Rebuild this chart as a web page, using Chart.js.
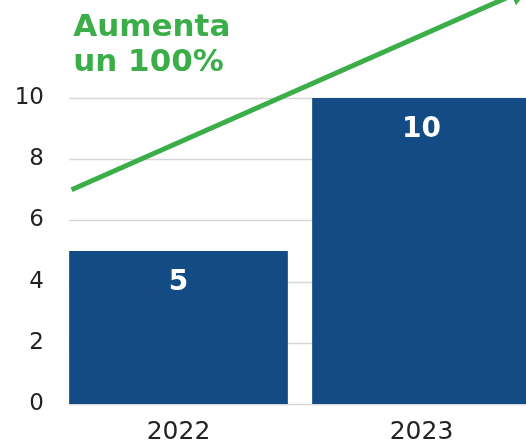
<!DOCTYPE html>
<html>
<head>
<meta charset="utf-8">
<script src="https://cdn.jsdelivr.net/npm/chart.js@4/dist/chart.umd.min.js"></script>
<style>
  html, body { margin: 0; padding: 0; background: #fff; overflow: hidden; }
  #growthChart { display: block; }
</style>
</head>
<body>
<canvas id="growthChart" width="543" height="444"></canvas>
<script>
// chart data
const years = ["2022", "2023"];
const counts = [5, 10];
const yTicks = [0, 2, 4, 6, 8, 10];
// trend arrow, x in category index units, y in axis units
const trendX = [-0.44, 1.40];
const trendY = [7.0, 13.45];
const headline = ["Aumenta", "un 100%"];

const BLUE = "#134b84";
const GREEN = "#3cae49";

// grid lines start at the left edge of the first bar, like the original
const gridPlugin = {
  id: "barGrid",
  beforeDatasetsDraw(chart) {
    const ctx = chart.ctx;
    const y = chart.scales.y;
    const bar = chart.getDatasetMeta(0).data[0];
    const left = bar.x - bar.width / 2;
    ctx.save();
    ctx.strokeStyle = "#d6d6d6";
    ctx.lineWidth = 1.5;
    yTicks.forEach(function (v) {
      const py = Math.round(y.getPixelForValue(v)) + 0.5;
      ctx.beginPath();
      ctx.moveTo(left, py);
      ctx.lineTo(chart.chartArea.right, py);
      ctx.stroke();
    });
    ctx.restore();
  },
  afterDatasetsDraw(chart) {
    const ctx = chart.ctx;
    const meta = chart.getDatasetMeta(0);
    ctx.save();
    // value labels inside bars
    ctx.fillStyle = "#ffffff";
    ctx.font = "bold 28px 'DejaVu Sans'";
    ctx.textAlign = "center";
    ctx.textBaseline = "middle";
    meta.data.forEach(function (bar, i) {
      ctx.fillText(String(counts[i]), bar.x, bar.y + 32);
    });
    // arrow head at the end of the trend line (points outside the area are skipped by Chart.js)
    const pts = chart.getDatasetMeta(1).data;
    const a = pts[0], b = pts[pts.length - 1];
    const ang = Math.atan2(b.y - a.y, b.x - a.x);
    const r = 13;
    ctx.fillStyle = GREEN;
    ctx.beginPath();
    ctx.moveTo(b.x + Math.cos(ang) * r, b.y + Math.sin(ang) * r);
    ctx.lineTo(b.x + Math.cos(ang + 2.2) * r, b.y + Math.sin(ang + 2.2) * r);
    ctx.lineTo(b.x + Math.cos(ang - 2.2) * r, b.y + Math.sin(ang - 2.2) * r);
    ctx.closePath();
    ctx.fill();
    // headline above the plot
    const first = meta.data[0];
    ctx.fillStyle = GREEN;
    ctx.font = "bold 31px 'DejaVu Sans'";
    ctx.textAlign = "left";
    ctx.textBaseline = "alphabetic";
    ctx.fillText(headline[0], first.x - first.width / 2 + 4, 36);
    ctx.fillText(headline[1], first.x - first.width / 2 + 4, 71);
    ctx.restore();
  },
};

const ctx = document.getElementById("growthChart").getContext("2d");
new Chart(ctx, {
  type: "bar",
  data: {
    labels: years,
    datasets: [
      {
        data: counts,
        backgroundColor: BLUE,
        barPercentage: 0.9,
        categoryPercentage: 1.0,
        grouped: false,
        order: 2,
      },
      {
        type: "line",
        data: trendX.map((x, i) => ({ x: x, y: trendY[i] })),
        xAxisID: "xl",
        borderColor: GREEN,
        borderWidth: 5,
        pointRadius: 0,
        clip: false,
        order: 1,
      },
    ],
  },
  options: {
    responsive: false,
    animation: false,
    layout: { padding: { top: 98, right: 0, left: 0, bottom: 0 } },
    plugins: {
      legend: { display: false },
      tooltip: { enabled: false },
    },
    scales: {
      x: {
        grid: { display: false },
        border: { display: false },
        ticks: {
          color: "#222",
          font: { family: "DejaVu Sans", size: 25 },
          padding: 5,
        },
        afterFit: (axis) => { axis.height = 40; },
      },
      xl: {
        type: "linear",
        display: false,
        offset: false,
        min: -0.5,
        max: 1.5,
      },
      y: {
        min: 0,
        max: 10,
        grid: { display: false },
        border: { display: false },
        ticks: {
          stepSize: 2,
          color: "#222",
          font: { family: "DejaVu Sans", size: 23 },
          padding: 5,
        },
        afterFit: (axis) => { axis.width = 57; },
      },
    },
  },
  plugins: [gridPlugin],
});
</script>
</body>
</html>
